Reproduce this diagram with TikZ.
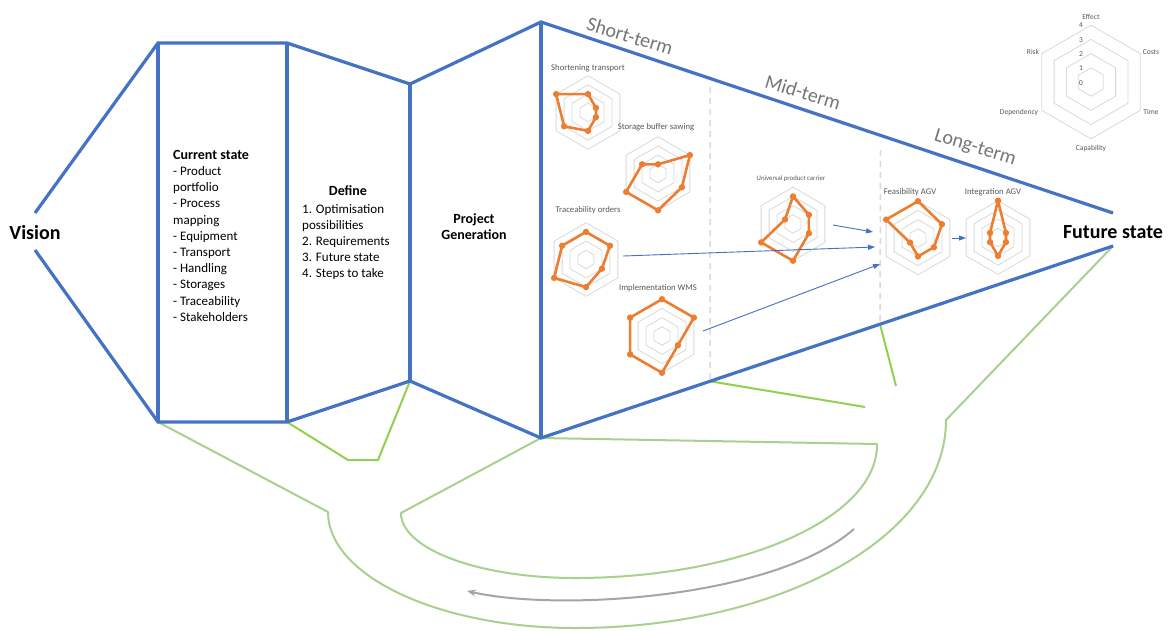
\documentclass[tikz,border=0pt]{standalone}
\usepackage{fontspec}
\setmainfont{Carlito}
\usetikzlibrary{arrows.meta,calc}

\definecolor{frameblue}{HTML}{4472C4}
\definecolor{palegreen}{HTML}{A9D18E}
\definecolor{brightgreen}{HTML}{92D050}
\definecolor{seriesorange}{HTML}{ED7D31}
\definecolor{gridgray}{HTML}{D9D9D9}
\definecolor{labelgray}{HTML}{595959}
\definecolor{termgray}{HTML}{767676}
\definecolor{cyclegray}{HTML}{A5A5A5}

\tikzset{
  frame/.style={draw=frameblue, line width=3.2pt, line join=miter},
  paleline/.style={draw=palegreen, line width=2pt, line join=round},
  brightline/.style={draw=brightgreen, line width=2pt, line join=round},
  horizon/.style={draw=gridgray, line width=1.5pt, dash pattern=on 6pt off 5pt},
  ring/.style={draw=gridgray, line width=0.8pt, line join=round},
  series/.style={draw=seriesorange, line width=2.6pt, line join=round},
  flow/.style={draw=frameblue, line width=0.9pt, -{Triangle[length=7pt,width=5pt]}},
  cyclearrow/.style={draw=cyclegray, line width=2pt, -{Stealth[length=9pt,width=7pt]}},
  bigtitle/.style={font=\fontsize{20}{24}\selectfont\bfseries, inner sep=0pt},
  boldhead/.style={font=\fontsize{14}{16.2}\selectfont\bfseries, inner sep=0pt},
  textblock/.style={font=\fontsize{13}{16.2}\selectfont, align=left, inner sep=0pt},
  charttitle/.style={font=\fontsize{8.7}{10}\selectfont, text=labelgray, inner sep=0pt},
  axislabel/.style={font=\fontsize{7.5}{9}\selectfont, text=labelgray, inner sep=0pt},
  termlabel/.style={font=\fontsize{20}{24}\selectfont, text=termgray, rotate=-17, inner sep=0pt},
}

% hexagonal radar chart: #1 centre, #2 unit radius,
% #3..#8 effect, costs, time, capability, dependency, risk
\newcommand\radarchart[8]{%
  \begin{scope}[shift={#1}]
    \foreach \ringno in {1,2,3,4}
      \draw[ring] (-90:\ringno*#2) -- (-30:\ringno*#2) -- (30:\ringno*#2)
        -- (90:\ringno*#2) -- (150:\ringno*#2) -- (210:\ringno*#2) -- cycle;
    \draw[series] (-90:#3*#2) -- (-30:#4*#2) -- (30:#5*#2) -- (90:#6*#2)
      -- (150:#7*#2) -- (210:#8*#2) -- cycle;
    \foreach \ang/\val in {-90/#3,-30/#4,30/#5,90/#6,150/#7,210/#8}
      \fill[seriesorange] (\ang:\val*#2) circle (3.2pt);
  \end{scope}}

\begin{document}
\begin{tikzpicture}[x=1pt, y=-1pt]
  \useasboundingbox[fill=white] (0,0) rectangle (1173,630);

  % corner points of the funnel
  \coordinate (visTop) at (35,213);
  \coordinate (visBot) at (35,250);
  \coordinate (csTL) at (158,43);
  \coordinate (csBL) at (158,422);
  \coordinate (dfTL) at (287,43);
  \coordinate (dfBL) at (287,422);
  \coordinate (pgTL) at (410,84);
  \coordinate (pgBL) at (410,381);
  \coordinate (trTL) at (541,22);
  \coordinate (trBL) at (541,438);
  \coordinate (tipTop) at (1113,213);
  \coordinate (tipBot) at (1113,246);

  % horizon separators
  \coordinate (stTop) at (710,87);
  \coordinate (stBot) at ($(trBL)!0.2955!(tipBot)$);
  \coordinate (mtTop) at (880.5,150);
  \coordinate (mtBot) at ($(trBL)!0.5927!(tipBot)$);
  \draw[horizon] (stTop) -- (stBot);
  \draw[horizon] (mtTop) -- (mtBot);

  % green feedback loops
  \coordinate (outerL) at (328,512);
  \coordinate (outerB) at (575,628);
  \coordinate (outerR) at (946,420);
  \coordinate (innerR) at (877,444);
  \coordinate (innerB) at (575,578);
  \coordinate (innerL) at (401,513);
  \draw[paleline] (csBL) -- (outerL) .. controls (328,576) and (439,628) .. (outerB)
    .. controls (780,628) and (946,537) .. (outerR) -- (tipBot);
  \draw[paleline] (trBL) -- (innerR) .. controls (878,518) and (742,578) .. (innerB)
    .. controls (479,578) and (401,549) .. (innerL) -- cycle;
  \coordinate (dfLow1) at (348,460);
  \coordinate (dfLow2) at (378,460);
  \coordinate (stCut) at (865,407);
  \coordinate (mtCut) at (896,386);
  \draw[brightline] (dfBL) -- (dfLow1) -- (dfLow2) -- (pgBL);
  \draw[brightline] (stBot) -- (stCut);
  \draw[brightline] (mtBot) -- (mtCut);

  % return arrow
  \coordinate (cycStart) at (854,529);
  \coordinate (cycEnd) at (467,591);
  \draw[cyclearrow] (cycStart) .. controls (775,598) and (560,612) .. (cycEnd);

  % blue funnel
  \draw[frame] (visTop) -- (csTL) -- (dfTL) -- (pgTL) -- (trTL) -- (tipTop);
  \draw[frame] (visBot) -- (csBL) -- (dfBL) -- (pgBL) -- (trBL) -- (tipBot);
  \draw[frame] (csTL) -- (csBL) (dfTL) -- (dfBL) (pgTL) -- (pgBL) (trTL) -- (trBL);

  % stage texts
  \node[bigtitle] (vision) at (35,233) {Vision};
  \node[bigtitle] (future) at (1113,232) {Future state};
  \node[textblock, anchor=north west] (current) at (173,150) {%
    {\bfseries\fontsize{14}{16.2}\selectfont Current state}\\
    - Product\\portfolio\\- Process\\mapping\\- Equipment\\- Transport\\
    - Handling\\- Storages\\- Traceability\\- Stakeholders};
  \node[boldhead] (define) at (348,191) {Define};
  \node[textblock, anchor=north west] (steps) at (302,204) {%
    1. Optimisation\\possibilities\\2. Requirements\\3. Future state\\4. Steps to take};
  \node[boldhead, align=center] (projgen) at (474,227) {Project\\Generation};

  % horizon labels
  \node[termlabel] (short) at (630,36) {Short-term};
  \node[termlabel] (mid) at (803,92) {Mid-term};
  \node[termlabel] (long) at (975,148) {Long-term};

  % project radar charts
  \radarchart{(588,112.5)}{9.2}{2}{1}{1}{2}{3}{4}
  \node[charttitle] (tShort) at (588,68) {Shortening transport};
  \radarchart{(658,173.5)}{9.2}{1}{4}{3}{4}{4}{2}
  \node[charttitle] (tStorage) at (656,127) {Storage buffer sawing};
  \radarchart{(586,259.5)}{9.2}{3}{3}{2}{3}{4}{3}
  \node[charttitle] (tTrace) at (588,210) {Traceability orders};
  \radarchart{(662,336)}{9.2}{4}{4}{2}{4}{4}{4}
  \node[charttitle] (tWms) at (658,288) {Implementation WMS};
  \radarchart{(793,224)}{9.2}{3}{2}{2}{4}{4}{1}
  \node[charttitle, font=\fontsize{6.8}{8}\selectfont] (tCarrier) at (791,179) {Universal product carrier};
  \radarchart{(918,238)}{9.2}{4}{3}{2}{2}{1}{4}
  \node[charttitle] (tFeas) at (910,192) {Feasibility AGV};
  \radarchart{(998,237.5)}{9.2}{4}{1}{1}{2}{1}{1}
  \node[charttitle] (tInteg) at (993,192) {Integration AGV};

  % dependencies between projects
  \coordinate (traceOut) at (623,256);
  \coordinate (wmsOut) at (703,331);
  \coordinate (carrierOut) at (833,225);
  \coordinate (feasInA) at (873,232);
  \coordinate (feasInB) at (875,247);
  \coordinate (feasInC) at (880,264);
  \coordinate (feasOut) at (952,238);
  \coordinate (integIn) at (966,238);
  \draw[flow] (carrierOut) -- (feasInA);
  \draw[flow] (traceOut) -- (feasInB);
  \draw[flow] (wmsOut) -- (feasInC);
  \draw[flow] (feasOut) -- (integIn);

  % legend chart
  \begin{scope}[shift={(1091,82)}]
    \foreach \ringno in {1,2,3,4}
      \draw[ring] (-90:\ringno*14.2) -- (-30:\ringno*14.2) -- (30:\ringno*14.2)
        -- (90:\ringno*14.2) -- (150:\ringno*14.2) -- (210:\ringno*14.2) -- cycle;
  \end{scope}
  \node[axislabel] (lEffect) at (1091,17) {Effect};
  \node[axislabel] (lCosts) at (1151,52) {Costs};
  \node[axislabel] (lTime) at (1151,112) {Time};
  \node[axislabel] (lCap) at (1091,148) {Capability};
  \node[axislabel] (lDep) at (1019,112) {Dependency};
  \node[axislabel] (lRisk) at (1033,52) {Risk};
  \node[axislabel] (n4) at (1081,25) {4};
  \node[axislabel] (n3) at (1081,40) {3};
  \node[axislabel] (n2) at (1081,54) {2};
  \node[axislabel] (n1) at (1081,68) {1};
  \node[axislabel] (n0) at (1081,83) {0};
\end{tikzpicture}
\end{document}
